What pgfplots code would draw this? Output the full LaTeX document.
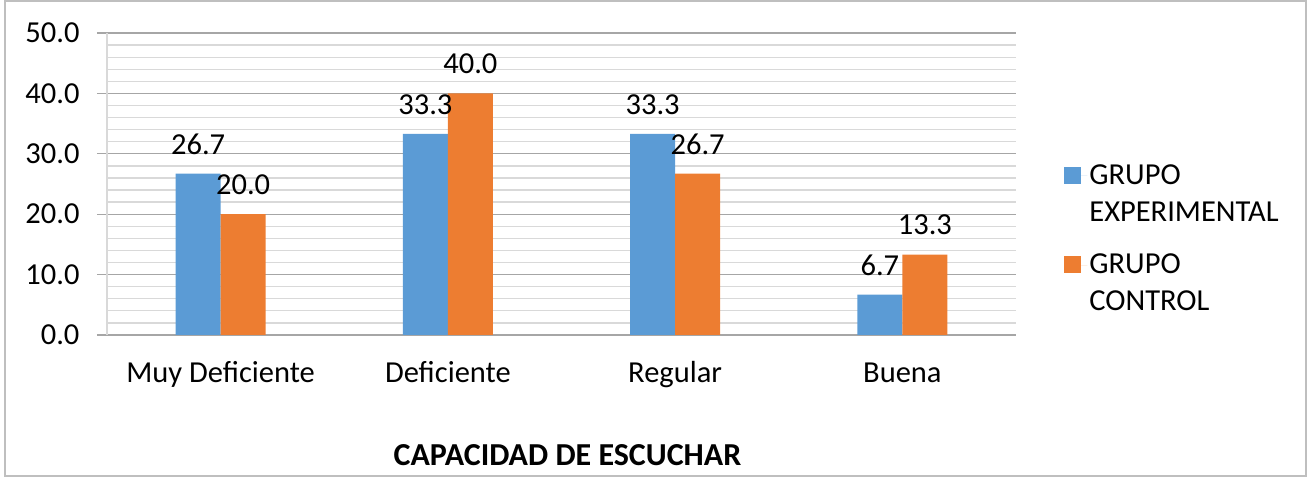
\documentclass[border=0pt]{standalone}
\usepackage{fontspec}
\setmainfont{Carlito}
\usepackage{pgfplots}
\pgfplotsset{compat=1.18}
\definecolor{cblue}{HTML}{5B9BD5}
\definecolor{corange}{HTML}{ED7D31}
\definecolor{majgrid}{HTML}{A6A6A6}
\definecolor{mingrid}{HTML}{D9D9D9}
\definecolor{frame}{HTML}{BFBFBF}
\newcommand{\bigf}{\fontsize{30.5}{37}\selectfont}
\begin{document}
\begin{tikzpicture}[x=1pt,y=1pt]
\useasboundingbox (0,0) rectangle (1316,478);
\draw[frame, line width=2pt] (5,2) rectangle (1306,477);
\begin{axis}[
  at={(107pt,143pt)}, anchor=south west,
  width=909pt, height=302pt, scale only axis,
  xmin=-0.5, xmax=3.5, ymin=0, ymax=50,
  ybar=0pt, bar width=45pt,
  xtick={0,1,2,3},
  xticklabels={Muy Deficiente, Deficiente, Regular, Buena},
  ytick={0,10,...,50}, minor y tick num=4,
  ymajorgrids, yminorgrids,
  major grid style={majgrid, line width=1.3pt},
  minor grid style={mingrid, line width=1.3pt},
  axis x line*=bottom, axis y line*=left,
  x axis line style={majgrid, line width=1.5pt},
  y axis line style={mingrid, line width=1.5pt},
  xtick style={draw=none},
  ytick style={majgrid, line width=1.3pt},
  tick align=outside, major tick length=10pt, minor tick length=0pt,
  tick label style={font=\bigf},
  yticklabel style={/pgf/number format/fixed, /pgf/number format/fixed zerofill, /pgf/number format/precision=1, /pgf/number format/assume math mode=true, xshift=-14pt},
  xticklabel style={anchor=base, yshift=-38pt},
  xlabel={\textbf{CAPACIDAD DE ESCUCHAR}},
  xlabel style={font=\fontsize{32}{38}\selectfont, at={(axis description cs:0.5,0)}, anchor=center, yshift=-120pt, xshift=6pt},
  nodes near coords={\pgfmathprintnumber[fixed,fixed zerofill,precision=1,assume math mode=true]{\pgfplotspointmeta}},
  every node near coord/.append style={font=\bigf, anchor=center, yshift=29.5pt},
  legend style={at={(1.053,0.32)}, anchor=west, draw=none, fill=none, font=\bigf,
    cells={anchor=west, align=left}, row sep=27pt, inner sep=0pt},
  legend cell align=left,
]
\addplot[fill=cblue, draw=none, legend image code/.code={\fill[cblue] (0pt,10pt) rectangle (17pt,27pt); \path (0pt,18pt) -- (23pt,18pt);}]
  coordinates {(0,26.7) (1,33.3) (2,33.3) (3,6.7)};
\addplot[fill=corange, draw=none, legend image code/.code={\fill[corange] (0pt,10pt) rectangle (17pt,27pt); \path (0pt,18pt) -- (23pt,18pt);}]
  coordinates {(0,20.0) (1,40.0) (2,26.7) (3,13.3)};
\legend{GRUPO\\EXPERIMENTAL, GRUPO\\CONTROL}
\end{axis}
\end{tikzpicture}
\end{document}
